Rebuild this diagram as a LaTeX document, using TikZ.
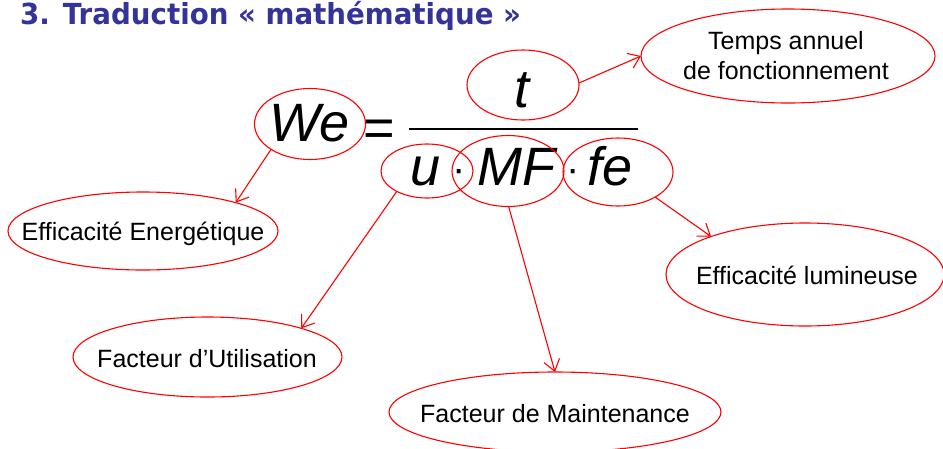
\documentclass[tikz,border=0pt]{standalone}
\usepackage{fontspec}
\setmainfont{Liberation Sans}
\newfontfamily\titlefont{DejaVu Sans}
\usetikzlibrary{shapes.geometric,arrows.meta}
\definecolor{titleblue}{RGB}{51,51,153}
\definecolor{ellred}{RGB}{255,0,0}
\tikzset{
  ell/.style={draw=ellred, line width=1.1pt, ellipse, inner sep=0pt, outer sep=0pt},
  lbl/.style={anchor=base, inner sep=0pt, font=\fontsize{25}{30}\selectfont},
  mth/.style={anchor=base, inner sep=0pt, font=\fontsize{54}{60}\selectfont\itshape},
  arr/.style={draw=ellred, line width=1.1pt, -{Straight Barb[length=11pt,width=16pt,line width=1.1pt]}},
}
\begin{document}
\begin{tikzpicture}[x=1pt,y=-1pt]
\useasboundingbox (0,0) rectangle (943,448);
% title
\node[anchor=base west, inner sep=0pt, text=titleblue, font=\titlefont\bfseries\fontsize{29}{34}\selectfont] (title) at (20,24) {\scalebox{0.955}[1]{3. Traduction « mathématique »}};
% math
\node[mth] (tWe) at (310,141) {We};
\node[anchor=base, inner sep=0pt, font=\fontsize{54}{60}\selectfont] (eq) at (379,146) {=};
\node[mth] (tt) at (522,107) {t};
\node[mth] (tu) at (426,185) {u};
\node[anchor=base, inner sep=0pt, font=\fontsize{40}{44}\selectfont] (d1) at (459,182) {·};
\node[mth] (tMF) at (516,185) {MF};
\node[anchor=base, inner sep=0pt, font=\fontsize{40}{44}\selectfont] (d2) at (573,182) {·};
\node[mth] (tfe) at (610,185) {fe};
\coordinate (barL) at (409,129);
\coordinate (barR) at (638,129);
\draw[line width=2.6pt] (barL) -- (barR);
% ellipses around math
\node[ell, minimum width=111pt, minimum height=71pt] (We) at (310,124) {};
\node[ell, minimum width=112pt, minimum height=70pt] (t) at (523,85) {};
\node[ell, minimum width=92pt, minimum height=54pt] (u) at (427,171) {};
\node[ell, minimum width=112pt, minimum height=71pt] (MF) at (508,171) {};
\node[ell, minimum width=110pt, minimum height=68pt] (fe) at (618,172) {};
% label ellipses
\node[ell, minimum width=294pt, minimum height=94pt] (TA) at (788,56) {};
\node[anchor=center, inner sep=0pt, align=center, font=\fontsize{25}{30}\selectfont] (TAt) at (786,56) {Temps annuel\\de fonctionnement};
\node[ell, minimum width=270pt, minimum height=78pt] (EE) at (143,231) {};
\node[lbl] (EEt) at (143,240) {Efficacité Energétique};
\node[ell, minimum width=269pt, minimum height=80pt] (FU) at (207.5,357) {};
\node[lbl] (FUt) at (207,367) {Facteur d’Utilisation};
\node[ell, minimum width=278pt, minimum height=103pt] (EL) at (805,274.5) {};
\node[lbl] (ELt) at (807,284) {Efficacité lumineuse};
\node[ell, minimum width=332pt, minimum height=80pt] (FM) at (555,412) {};
\node[lbl] (FMt) at (555,422) {Facteur de Maintenance};
% arrows
\draw[arr] (t.2) -- (TA.180);
\draw[arr] (We.213) -- (EE.17);
\draw[arr] (u.214) -- (FU.17.5);
\draw[arr] (MF.271) -- (FM.90);
\draw[arr] (fe.-34) -- (EL.158);
\end{tikzpicture}
\end{document}
